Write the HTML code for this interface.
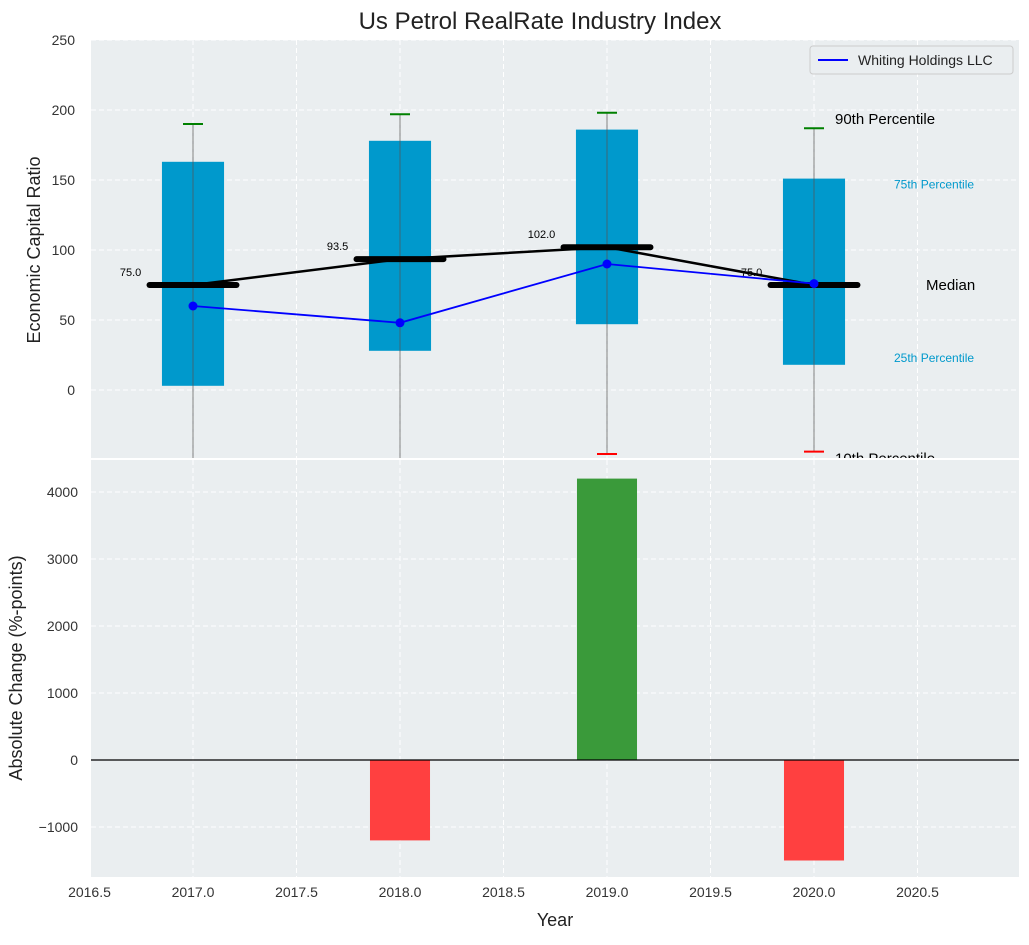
<!DOCTYPE html>
<html><head><meta charset="utf-8"><style>
body{margin:0;background:#fff;font-family:"Liberation Sans",sans-serif}
svg text{font-family:"Liberation Sans",sans-serif}
</style></head><body>
<svg id="c" width="1029" height="940" xmlns="http://www.w3.org/2000/svg"></svg>
<script>
const years=[2017,2018,2019,2020];
const p10=[-60,-60,-45.7,-44];
const p25=[3,28,47,18];
const medians=[75,93.5,102,75];
const p75=[163,178,186,151];
const p90=[190,197,198,187];
const company=[60,48,90,76];
const changes=[null,-1200,4200,-1500];
const xTicks=[2016.5,2017,2017.5,2018,2018.5,2019,2019.5,2020,2020.5];
const yTopTicks=[0,50,100,150,200,250];
const yBotTicks=[-1000,0,1000,2000,3000,4000];

const NS="http://www.w3.org/2000/svg";
const svg=document.getElementById('c');
function el(t,a,p){const e=document.createElementNS(NS,t);for(const k in a)e.setAttribute(k,a[k]);(p||svg).appendChild(e);return e;}
const L=91,R=1019;
const X=v=>193+(v-2017)*207;
const T0=40,T1=458,B0=460,B1=877;
const YT=v=>390-v*1.4;
const YB=v=>760-v*0.067;

let t=el('text',{x:540,y:29,'font-size':24,'text-anchor':'middle',fill:'#222'});t.textContent='Us Petrol RealRate Industry Index';


let gt=el('g',{});
const cp=el('clipPath',{id:'ct'},gt);
el('rect',{x:L,y:T0,width:R-L,height:T1-T0},cp);
el('rect',{x:L,y:T0,width:R-L,height:T1-T0,fill:'#eaeef0'},gt);
const inner=el('g',{'clip-path':'url(#ct)'},gt);
xTicks.forEach(v=>el('line',{x1:X(v),x2:X(v),y1:T0,y2:T1,stroke:'#fff','stroke-dasharray':'5,3','stroke-width':1},inner));
yTopTicks.forEach(v=>{el('line',{x1:L,x2:R,y1:YT(v),y2:YT(v),stroke:'#fff','stroke-dasharray':'5,3'},inner);
 let tx=el('text',{x:75,y:YT(v)+5,'font-size':14,'text-anchor':'end',fill:'#333'});tx.textContent=v;
 });
years.forEach((y,i)=>{
 let b=el('rect',{x:X(y-0.15),y:YT(p75[i]),width:X(y+0.15)-X(y-0.15),height:YT(p25[i])-YT(p75[i]),fill:'#0099cc'},inner);
 
 el('line',{x1:X(y),x2:X(y),y1:YT(p90[i]),y2:YT(p10[i]),stroke:'#555','stroke-opacity':0.6,'stroke-width':1.2},inner);
 el('line',{x1:X(y)-10,x2:X(y)+10,y1:YT(p90[i]),y2:YT(p90[i]),stroke:'green','stroke-width':2},inner);
 el('line',{x1:X(y)-10,x2:X(y)+10,y1:YT(p10[i]),y2:YT(p10[i]),stroke:'red','stroke-width':2},inner);
});
el('polyline',{points:years.map((y,i)=>X(y)+','+YT(medians[i])).join(' '),fill:'none',stroke:'#000','stroke-width':2.5},inner);
years.forEach((y,i)=>{
 let m=el('line',{x1:X(y-0.21),x2:X(y+0.21),y1:YT(medians[i]),y2:YT(medians[i]),stroke:'#000','stroke-width':6,'stroke-linecap':'round'},inner);
 
 let tx=el('text',{x:X(y-0.25),y:YT(medians[i])-9,'font-size':11,'text-anchor':'end',fill:'#000'},inner);tx.textContent=medians[i].toFixed(1);
});
el('polyline',{points:years.map((y,i)=>X(y)+','+YT(company[i])).join(' '),fill:'none',stroke:'blue','stroke-width':1.8},inner);
years.forEach((y,i)=>{let c=el('circle',{cx:X(y),cy:YT(company[i]),r:4.5,fill:'blue'},inner);
 });
const li=p=>X(2020)+p;
[[li(21),YT(p90[3])-4,'90th Percentile',15,'#000'],[li(80),YT(p75[3])+10,'75th Percentile',12,'#0099cc'],
 [li(112),YT(medians[3])+5,'Median',15,'#000'],[li(80),YT(p25[3])-3,'25th Percentile',12,'#0099cc'],[li(21),YT(p10[3])+12,'10th Percentile',15,'#000']]
 .forEach(a=>{let tx=el('text',{x:a[0],y:a[1],'font-size':a[3],fill:a[4]},inner);tx.textContent=a[2];});
let lg=el('g',{},gt);
el('rect',{x:810,y:46,width:203,height:28,rx:3,fill:'#eaeef0',stroke:'#ccc'},lg);
el('line',{x1:818,x2:848,y1:60,y2:60,stroke:'blue','stroke-width':2},lg);
let lt=el('text',{x:858,y:65,'font-size':14,fill:'#222'},lg);lt.textContent='Whiting Holdings LLC';
let yl=el('text',{x:40,y:250,'font-size':18,'text-anchor':'middle',fill:'#222',transform:'rotate(-90 40 250)'});yl.textContent='Economic Capital Ratio';


let gb=el('g',{});
el('rect',{x:L,y:B0,width:R-L,height:B1-B0,fill:'#eaeef0'},gb);
xTicks.forEach(v=>{el('line',{x1:X(v),x2:X(v),y1:B0,y2:B1,stroke:'#fff','stroke-dasharray':'5,3'},gb);
 let tx=el('text',{x:X(v),y:B1+20,'font-size':14,'text-anchor':'middle',fill:'#333'});tx.textContent=v.toFixed(1);
 });
yBotTicks.forEach(v=>{el('line',{x1:L,x2:R,y1:YB(v),y2:YB(v),stroke:'#fff','stroke-dasharray':'5,3'},gb);
 let tx=el('text',{x:78,y:YB(v)+5,'font-size':14,'text-anchor':'end',fill:'#333'});tx.textContent=v<0?'\u2212'+(-v):v;});
years.forEach((y,i)=>{if(changes[i]==null)return;const v=changes[i];
 let b=el('rect',{x:X(y-0.145),y:Math.min(YB(v),YB(0)),width:X(y+0.145)-X(y-0.145),height:Math.abs(YB(v)-YB(0)),fill:v>=0?'#3a9a3a':'#ff4040'},gb);
 });
el('line',{x1:L,x2:R,y1:YB(0),y2:YB(0),stroke:'#000','stroke-width':1.2},gb);
let yl2=el('text',{x:22,y:668,'font-size':18,'text-anchor':'middle',fill:'#222',transform:'rotate(-90 22 668)'});yl2.textContent='Absolute Change (%-points)';

let xl=el('text',{x:555,y:926,'font-size':18,'text-anchor':'middle',fill:'#222'});xl.textContent='Year';

</script>
</body></html>
